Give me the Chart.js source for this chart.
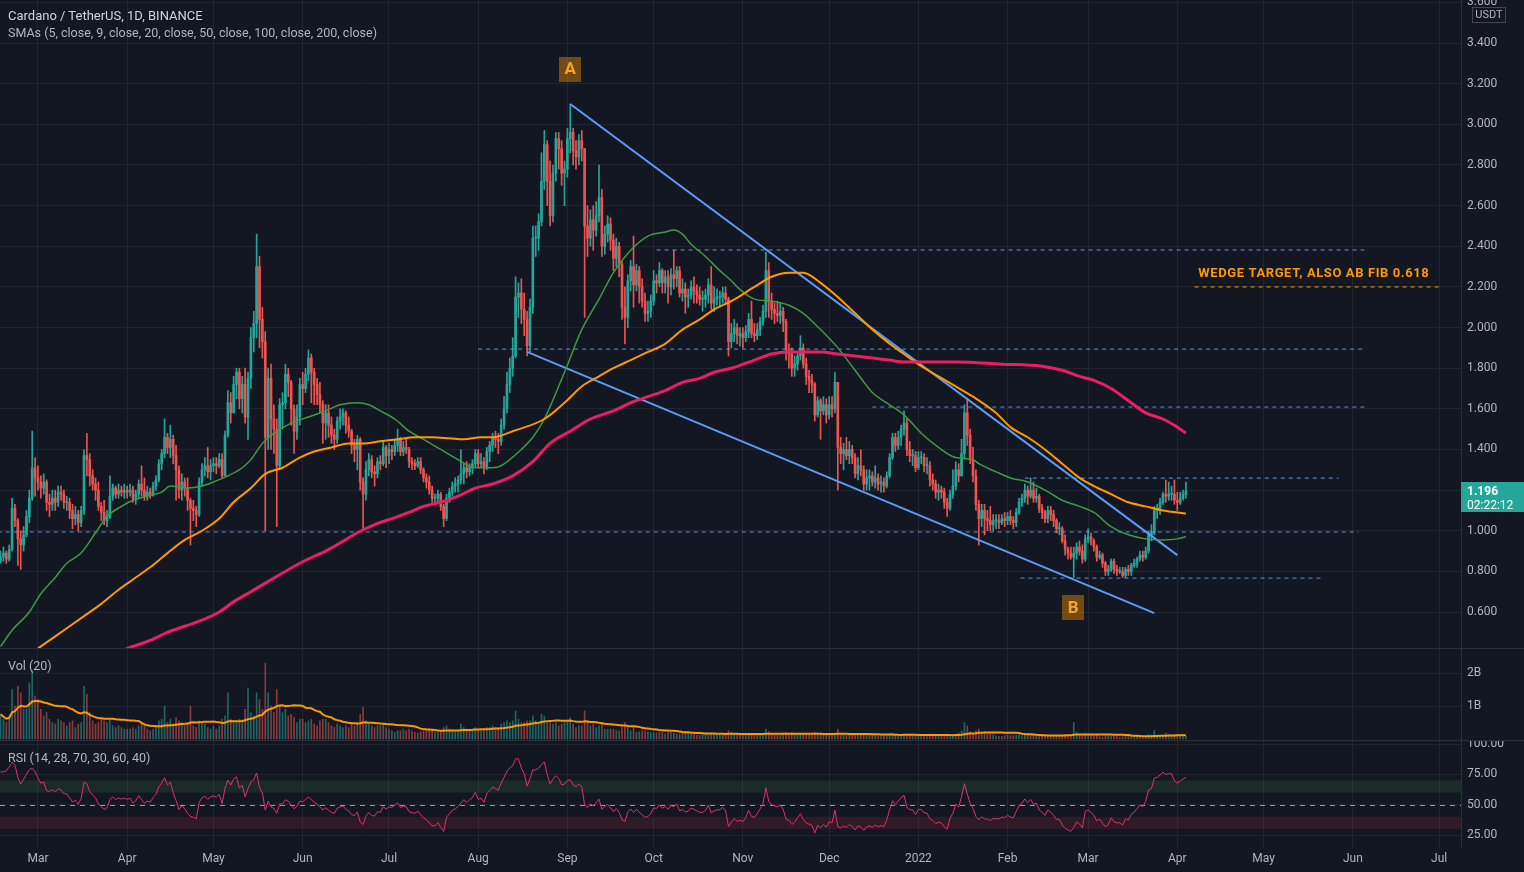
<!DOCTYPE html>
<html>
<head>
<meta charset="utf-8">
<title>Cardano / TetherUS, 1D, BINANCE</title>
<script src="https://cdn.jsdelivr.net/npm/chart.js@4.4.1/dist/chart.umd.min.js"></script>
<style>
  html, body { margin: 0; padding: 0; background: #131722; }
  body { width: 1524px; height: 872px; position: relative; overflow: hidden; font-family: Roboto, "Noto Sans", sans-serif; }
  canvas { position: absolute; left: 0; }
  #main { top: 0; }
  #vol { top: 648px; }
  #rsi { top: 740px; }
  .sep { position: absolute; left: 0; width: 1524px; height: 1px; background: #2a2e39; }
  .legend { position: absolute; left: 8px; color: #b2b5be; font-size: 12.5px; line-height: 16px; white-space: nowrap; }
</style>
</head>
<body>
<canvas id="main" width="1524" height="648"></canvas>
<canvas id="vol" width="1524" height="92"></canvas>
<canvas id="rsi" width="1524" height="132"></canvas>
<div class="sep" style="top:648px"></div>
<div class="sep" style="top:740px"></div>
<div class="legend" style="top:8px;font-size:13px;color:#d1d4dc">Cardano / TetherUS, 1D, BINANCE</div>
<div class="legend" style="top:25px">SMAs (5, close, 9, close, 20, close, 50, close, 100, close, 200, close)</div>
<div class="legend" style="top:658px">Vol (20)</div>
<div class="legend" style="top:750px">RSI (14, 28, 70, 30, 60, 40)</div>
<script>
const FONT = 'Roboto, "Noto Sans", sans-serif';
const TEXT = '#b2b5be';
const GRID = 'rgba(42,46,57,0.6)';
const UP = '#26a69a';
const DOWN = '#ef5350';

// day 0 = 16 Feb 2021, one candle per day
const startDate = Date.UTC(2021, 1, 16);
const firstOpen = 0.85;

const closes = [
  0.87,0.89,0.86,0.91,1.11,1.05,0.96,0.93,0.98,1.07,1.16,1.31,1.26, // feb 21
  1.24,1.21,1.24,1.14,1.13,1.16,1.14,1.19,1.18,1.14,1.14,1.10,1.06,1.08,1.04,1.10,1.37,1.35,1.27,1.23,1.20,1.12,1.09,1.05,1.07,1.17,1.21,1.18,1.20,1.19,1.20,
  1.19,1.20,1.16,1.18,1.23,1.20,1.17,1.19,1.18,1.22,1.25,1.33,1.38,1.46,1.41,1.45,1.37,1.30,1.20,1.24,1.21,1.15,1.11,1.10,1.08,1.24,1.30,1.32,1.29,1.32,
  1.33,1.32,1.35,1.27,1.47,1.63,1.58,1.72,1.78,1.65,1.72,1.56,1.75,1.95,2.02,2.30,2.04,1.93,1.46,1.75,1.55,1.50,1.32,1.62,1.63,1.77,1.73,1.60,1.49,1.56,1.72,
  1.70,1.77,1.85,1.78,1.72,1.67,1.62,1.53,1.58,1.52,1.47,1.45,1.54,1.56,1.58,1.52,1.49,1.42,1.40,1.45,1.24,1.18,1.30,1.35,1.29,1.28,1.34,1.33,1.41,1.37,
  1.40,1.39,1.42,1.45,1.39,1.41,1.40,1.34,1.33,1.32,1.34,1.30,1.26,1.24,1.20,1.16,1.16,1.18,1.12,1.06,1.16,1.19,1.22,1.23,1.25,1.28,1.31,1.29,1.31,1.33,1.38,
  1.33,1.34,1.31,1.39,1.42,1.46,1.45,1.44,1.52,1.60,1.72,1.80,1.86,2.15,2.17,2.09,2.04,1.91,2.10,2.44,2.44,2.52,2.72,2.90,2.72,2.55,2.76,2.93,2.88,2.76,2.78,
  2.93,2.96,2.87,2.84,2.92,2.88,2.50,2.44,2.53,2.48,2.55,2.64,2.40,2.46,2.51,2.43,2.34,2.40,2.31,2.10,2.05,2.23,2.30,2.21,2.28,2.20,2.13,2.07,2.08,2.13,
  2.23,2.22,2.28,2.22,2.25,2.20,2.26,2.24,2.28,2.17,2.19,2.15,2.16,2.20,2.18,2.16,2.14,2.14,2.16,2.21,2.12,2.14,2.15,2.15,2.17,2.14,1.93,1.97,2.00,1.96,1.97,
  1.95,1.98,2.04,1.97,1.96,1.99,2.03,2.08,2.28,2.13,2.09,2.07,2.06,2.08,2.03,1.89,1.87,1.80,1.82,1.86,1.90,1.82,1.76,1.74,1.72,1.57,1.64,1.59,1.62,1.57,
  1.62,1.60,1.73,1.41,1.38,1.40,1.37,1.40,1.36,1.28,1.32,1.30,1.23,1.26,1.27,1.24,1.26,1.23,1.24,1.22,1.27,1.36,1.46,1.42,1.46,1.50,1.53,1.40,1.37,1.37,1.31,
  1.36,1.36,1.32,1.32,1.25,1.23,1.19,1.20,1.19,1.14,1.11,1.18,1.22,1.30,1.27,1.38,1.58,1.47,1.35,1.27,1.13,1.06,1.10,1.06,1.05,1.03,1.05,1.05,1.04,1.06,1.05,
  1.07,1.05,1.04,1.09,1.14,1.16,1.20,1.17,1.20,1.16,1.17,1.11,1.09,1.06,1.10,1.08,1.05,1.01,1.01,0.95,0.91,0.89,0.87,0.89,0.92,0.90,0.86,0.96,
  0.97,0.95,0.92,0.87,0.88,0.84,0.80,0.81,0.85,0.81,0.80,0.80,0.78,0.81,0.80,0.83,0.84,0.86,0.88,0.87,0.90,0.98,0.99,1.10,1.11,1.14,1.18,1.17,1.18,1.18,1.15,
  1.14,1.16,1.18,1.196
];

const highs = [
  0.90,0.92,0.90,0.93,1.16,1.13,1.06,1.00,1.02,1.10,1.20,1.49,1.36,
  1.32,1.27,1.28,1.25,1.18,1.20,1.20,1.22,1.22,1.20,1.17,1.16,1.13,1.12,1.10,1.12,1.40,1.48,1.38,1.30,1.26,1.24,1.14,1.15,1.10,1.27,1.23,1.22,1.23,1.22,1.23,
  1.22,1.23,1.22,1.20,1.25,1.32,1.26,1.22,1.21,1.24,1.27,1.35,1.40,1.55,1.48,1.52,1.47,1.42,1.32,1.28,1.26,1.26,1.16,1.15,1.12,1.26,1.33,1.36,1.41,1.35,
  1.36,1.36,1.38,1.38,1.49,1.69,1.68,1.76,1.80,1.80,1.76,1.80,1.78,2.00,2.08,2.46,2.35,2.10,1.98,1.80,1.82,1.62,1.55,1.65,1.68,1.82,1.80,1.74,1.62,1.62,1.75,
  1.78,1.80,1.89,1.87,1.80,1.75,1.73,1.64,1.62,1.62,1.56,1.50,1.56,1.60,1.60,1.59,1.56,1.50,1.45,1.47,1.46,1.26,1.34,1.38,1.37,1.32,1.36,1.37,1.44,1.42,
  1.43,1.42,1.45,1.50,1.46,1.44,1.45,1.41,1.36,1.35,1.36,1.36,1.31,1.28,1.27,1.22,1.18,1.20,1.19,1.13,1.18,1.21,1.24,1.26,1.27,1.40,1.33,1.34,1.33,1.35,1.40,
  1.40,1.38,1.36,1.41,1.44,1.48,1.49,1.48,1.55,1.66,1.78,1.85,1.95,2.25,2.22,2.24,2.17,2.08,2.14,2.50,2.50,2.56,2.86,2.97,2.92,2.82,2.80,2.96,2.96,2.92,2.82,
  2.98,3.10,2.98,2.92,2.95,2.97,2.88,2.60,2.58,2.60,2.62,2.80,2.68,2.50,2.55,2.54,2.46,2.44,2.42,2.33,2.20,2.26,2.33,2.45,2.31,2.30,2.24,2.17,2.13,2.16,
  2.28,2.26,2.32,2.29,2.28,2.28,2.29,2.38,2.30,2.30,2.24,2.22,2.19,2.23,2.25,2.21,2.20,2.18,2.19,2.24,2.30,2.20,2.19,2.18,2.20,2.20,2.15,2.02,2.04,2.02,2.00,
  2.00,2.01,2.07,2.13,2.02,2.02,2.05,2.11,2.37,2.32,2.17,2.12,2.13,2.12,2.10,2.04,1.92,1.90,1.86,1.88,1.96,1.92,1.85,1.79,1.77,1.73,1.66,1.65,1.66,1.65,
  1.66,1.66,1.78,1.73,1.46,1.43,1.46,1.44,1.42,1.38,1.36,1.40,1.32,1.30,1.30,1.29,1.32,1.28,1.27,1.26,1.29,1.38,1.48,1.48,1.49,1.52,1.59,1.55,1.44,1.40,1.39,
  1.39,1.39,1.38,1.36,1.34,1.28,1.25,1.23,1.22,1.21,1.16,1.20,1.30,1.34,1.33,1.45,1.62,1.65,1.50,1.41,1.30,1.15,1.13,1.13,1.10,1.12,1.08,1.08,1.08,1.08,1.09,
  1.09,1.10,1.07,1.11,1.16,1.18,1.23,1.22,1.26,1.24,1.21,1.18,1.13,1.10,1.12,1.12,1.10,1.06,1.04,1.02,0.98,0.92,0.92,0.92,0.94,0.95,0.93,0.98,
  1.01,0.99,0.96,0.93,0.90,0.89,0.85,0.83,0.86,0.86,0.83,0.82,0.82,0.82,0.83,0.84,0.86,0.87,0.90,0.90,0.92,1.00,1.03,1.12,1.13,1.16,1.19,1.25,1.24,1.22,1.25,
  1.19,1.19,1.20,1.24
];

const lows = [
  0.84,0.85,0.84,0.85,0.90,1.02,0.83,0.81,0.90,0.97,1.04,1.15,1.17,
  1.20,1.16,1.18,1.10,1.07,1.10,1.10,1.12,1.15,1.11,1.10,1.06,1.01,1.03,1.00,1.02,1.08,1.27,1.22,1.20,1.15,1.10,1.05,1.03,1.02,1.06,1.15,1.16,1.16,1.17,1.16,
  1.16,1.17,1.14,1.13,1.16,1.17,1.15,1.15,1.16,1.17,1.20,1.24,1.30,1.36,1.38,1.36,1.33,1.15,1.16,1.15,1.17,1.10,0.93,1.05,1.02,1.07,1.22,1.27,1.26,1.25,
  1.29,1.28,1.31,1.26,1.27,1.46,1.53,1.58,1.65,1.60,1.58,1.53,1.45,1.70,1.88,1.95,1.90,1.85,1.00,1.40,1.40,1.38,1.02,1.31,1.50,1.60,1.66,1.52,1.38,1.45,1.52,
  1.62,1.68,1.74,1.63,1.62,1.62,1.58,1.43,1.45,1.46,1.43,1.40,1.43,1.50,1.52,1.48,1.46,1.38,1.34,1.30,1.20,1.00,1.15,1.27,1.26,1.22,1.26,1.30,1.32,1.31,
  1.33,1.35,1.37,1.39,1.37,1.37,1.38,1.31,1.30,1.30,1.31,1.28,1.24,1.21,1.18,1.14,1.13,1.14,1.10,1.02,1.05,1.14,1.17,1.19,1.19,1.23,1.23,1.26,1.27,1.28,1.31,
  1.31,1.31,1.28,1.30,1.34,1.39,1.41,1.38,1.42,1.50,1.58,1.68,1.76,1.85,2.05,2.02,1.96,1.86,1.88,2.07,2.35,2.38,2.50,2.68,2.60,2.50,2.52,2.72,2.78,2.70,2.60,
  2.74,2.86,2.80,2.78,2.80,2.82,2.05,2.35,2.40,2.38,2.45,2.52,2.35,2.36,2.42,2.38,2.28,2.30,2.25,2.04,1.92,2.00,2.18,2.10,2.18,2.12,2.10,2.03,2.03,2.05,
  2.11,2.17,2.20,2.17,2.17,2.12,2.16,2.19,2.20,2.15,2.13,2.07,2.10,2.14,2.12,2.12,2.11,2.08,2.10,2.12,2.09,2.08,2.11,2.10,2.12,2.12,1.86,1.90,1.93,1.92,1.91,
  1.90,1.93,1.95,1.95,1.93,1.94,1.96,2.01,2.05,2.05,2.04,2.02,2.03,2.02,1.98,1.84,1.80,1.76,1.76,1.79,1.84,1.80,1.72,1.68,1.68,1.54,1.56,1.45,1.57,1.53,
  1.55,1.56,1.58,1.20,1.33,1.30,1.35,1.33,1.33,1.26,1.25,1.27,1.20,1.20,1.20,1.22,1.21,1.20,1.19,1.19,1.21,1.26,1.35,1.39,1.40,1.42,1.47,1.37,1.34,1.32,1.29,
  1.30,1.33,1.29,1.28,1.22,1.20,1.16,1.15,1.16,1.11,1.07,1.10,1.16,1.20,1.24,1.27,1.36,1.42,1.33,1.24,1.10,0.93,1.02,0.98,1.00,1.00,1.00,1.01,1.01,1.03,1.02,
  1.03,1.03,1.01,1.02,1.08,1.12,1.14,1.13,1.16,1.14,1.14,1.09,1.06,1.04,1.04,1.05,1.02,0.99,0.98,0.94,0.88,0.86,0.86,0.77,0.86,0.88,0.84,0.85,
  0.94,0.93,0.90,0.85,0.86,0.82,0.78,0.78,0.80,0.79,0.78,0.79,0.77,0.77,0.78,0.78,0.82,0.82,0.85,0.85,0.86,0.89,0.95,0.98,1.06,1.08,1.13,1.14,1.15,1.15,1.13,
  1.10,1.13,1.15,1.16
];

// daily volume, billions
const volumes = [
  0.75,0.6,0.5,0.7,1.5,1.0,1.6,1.4,0.9,0.9,1.7,2.1,1.3,
  1.2,0.9,0.7,0.8,0.6,0.5,0.45,0.6,0.55,0.5,0.4,0.5,0.55,0.35,0.45,0.5,1.6,1.35,0.8,0.55,0.45,0.5,0.6,0.55,0.5,0.6,0.4,0.35,0.4,0.35,0.3,
  0.3,0.3,0.35,0.3,0.4,0.45,0.4,0.3,0.25,0.3,0.35,0.55,0.6,1.0,0.5,0.6,0.45,0.65,0.55,0.5,0.4,0.45,1.0,0.4,0.35,0.55,0.5,0.45,0.35,0.3,
  0.4,0.3,0.4,0.6,0.7,1.4,0.6,0.55,0.5,0.6,0.55,0.9,1.55,0.8,0.7,1.4,1.2,0.9,2.3,1.4,1.0,0.8,1.5,1.0,0.8,0.9,0.7,0.75,0.65,0.5,0.6,
  0.6,0.5,0.55,0.6,0.45,0.4,0.55,0.6,0.6,0.5,0.4,0.35,0.45,0.4,0.35,0.4,0.35,0.45,0.4,0.5,0.75,0.97,0.55,0.45,0.4,0.35,0.4,0.4,0.45,0.35,
  0.3,0.25,0.2,0.25,0.25,0.3,0.25,0.3,0.25,0.2,0.18,0.22,0.25,0.25,0.3,0.25,0.2,0.2,0.25,0.35,0.4,0.3,0.25,0.22,0.25,0.45,0.35,0.3,0.3,0.3,0.35,
  0.3,0.28,0.3,0.35,0.35,0.4,0.35,0.3,0.45,0.5,0.55,0.5,0.55,0.85,0.6,0.5,0.5,0.55,0.55,0.7,0.55,0.45,0.75,0.7,0.55,0.5,0.45,0.5,0.4,0.45,0.5,
  0.55,0.65,0.45,0.35,0.4,0.4,0.85,0.5,0.4,0.45,0.35,0.4,0.45,0.3,0.3,0.3,0.3,0.25,0.25,0.4,0.5,0.35,0.25,0.35,0.2,0.22,0.25,0.25,0.22,0.2,
  0.2,0.18,0.2,0.2,0.15,0.2,0.2,0.18,0.15,0.15,0.18,0.2,0.18,0.15,0.15,0.12,0.12,0.15,0.15,0.15,0.18,0.15,0.12,0.12,0.13,0.15,0.25,0.2,0.17,0.14,0.13,
  0.14,0.15,0.15,0.15,0.14,0.13,0.12,0.15,0.3,0.22,0.17,0.15,0.12,0.12,0.14,0.2,0.17,0.2,0.15,0.13,0.14,0.14,0.15,0.14,0.13,0.2,0.13,0.15,0.14,0.14,
  0.14,0.14,0.18,0.3,0.17,0.15,0.12,0.12,0.13,0.14,0.11,0.11,0.15,0.13,0.14,0.12,0.12,0.1,0.1,0.11,0.12,0.16,0.18,0.12,0.1,0.12,0.13,0.15,0.12,0.12,0.11,
  0.09,0.08,0.1,0.11,0.14,0.13,0.15,0.11,0.09,0.14,0.13,0.12,0.11,0.14,0.18,0.25,0.5,0.4,0.22,0.18,0.25,0.3,0.2,0.22,0.15,0.16,0.13,0.1,0.08,0.08,0.1,
  0.12,0.1,0.1,0.12,0.13,0.1,0.14,0.12,0.14,0.13,0.1,0.1,0.09,0.1,0.1,0.1,0.1,0.11,0.08,0.1,0.14,0.12,0.1,0.5,0.2,0.12,0.12,0.18,
  0.15,0.12,0.1,0.12,0.07,0.06,0.1,0.09,0.1,0.08,0.08,0.05,0.07,0.08,0.08,0.1,0.08,0.08,0.07,0.07,0.08,0.14,0.12,0.25,0.12,0.1,0.12,0.18,0.14,0.12,0.12,
  0.11,0.08,0.07,0.09
];

// RSI for the first 14 days, read off the pane (no history before them here)
const rsiHead = [77, 77, 78, 81, 85, 83, 72, 67, 71, 75, 79, 80, 77, 72];

// moving averages: [day, price]
const sma50 = [[0,0.43],[4,0.51],[10,0.60],[14,0.69],[19,0.77],[23,0.84],[28,0.89],[33,0.99],[37,1.07],[42,1.12],[46,1.15],[51,1.17],[56,1.19],[59,1.22],[65,1.21],[70,1.22],[74,1.24],[79,1.27],[84,1.31],[87,1.35],[91,1.43],[95,1.48],[101,1.53],[107,1.56],[113,1.59],[118,1.62],[124,1.63],[128,1.62],[132,1.59],[137,1.55],[142,1.49],[147,1.45],[153,1.40],[159,1.35],[165,1.31],[171,1.31],[174,1.32],[181,1.40],[185,1.46],[189,1.55],[196,1.78],[202,1.99],[208,2.14],[213,2.27],[219,2.38],[225,2.45],[231,2.47],[234,2.48],[237,2.46],[240,2.41],[245,2.35],[250,2.28],[254,2.23],[256,2.20],[262,2.14],[268,2.13],[274,2.11],[279,2.07],[285,1.99],[291,1.90],[297,1.79],[303,1.68],[309,1.62],[314,1.57],[320,1.48],[326,1.41],[332,1.36],[338,1.35],[340,1.33],[346,1.29],[351,1.26],[357,1.24],[363,1.20],[369,1.15],[375,1.12],[380,1.09],[386,1.02],[392,0.98],[398,0.96],[404,0.955],[409,0.96],[412,0.97]];
const sma100 = [[7,0.35],[13,0.42],[19,0.48],[23,0.52],[29,0.58],[35,0.64],[41,0.71],[46,0.76],[52,0.82],[58,0.89],[64,0.955],[70,1.00],[76,1.06],[81,1.14],[87,1.21],[92,1.28],[98,1.31],[104,1.36],[109,1.39],[115,1.41],[121,1.43],[126,1.43],[132,1.44],[138,1.45],[144,1.46],[150,1.46],[156,1.455],[161,1.45],[167,1.46],[171,1.46],[178,1.49],[189,1.55],[196,1.63],[202,1.71],[208,1.76],[213,1.80],[219,1.84],[225,1.88],[231,1.92],[237,1.99],[243,2.04],[248,2.09],[254,2.13],[262,2.20],[268,2.25],[274,2.27],[279,2.27],[285,2.22],[291,2.15],[297,2.07],[303,1.99],[309,1.92],[314,1.87],[320,1.81],[326,1.76],[332,1.71],[338,1.66],[346,1.58],[351,1.51],[357,1.46],[363,1.40],[369,1.33],[375,1.26],[380,1.22],[386,1.18],[392,1.14],[398,1.12],[404,1.10],[409,1.09],[412,1.085]];
const sma200 = [[38,0.38],[44,0.42],[52,0.46],[58,0.50],[64,0.53],[70,0.56],[76,0.60],[81,0.65],[87,0.70],[106,0.855],[113,0.90],[118,0.94],[124,0.99],[130,1.03],[136,1.06],[142,1.09],[147,1.12],[153,1.14],[159,1.17],[165,1.21],[171,1.23],[178,1.27],[185,1.34],[191,1.43],[198,1.49],[205,1.55],[213,1.59],[219,1.63],[225,1.66],[231,1.69],[237,1.73],[243,1.75],[248,1.78],[254,1.80],[262,1.84],[268,1.87],[274,1.88],[279,1.88],[285,1.88],[291,1.87],[297,1.86],[303,1.85],[309,1.84],[314,1.83],[320,1.83],[332,1.83],[348,1.82],[362,1.81],[369,1.79],[375,1.76],[380,1.74],[386,1.70],[392,1.64],[398,1.58],[404,1.55],[409,1.51],[412,1.48]];

// drawings
const wedgeUpper = [[198, 3.10], [409, 0.88]];
const wedgeLower = [[183, 1.88], [401, 0.595]];
const levelPrices = [2.382, 1.894, 1.609, 1.259, 0.994, 0.767];
const levelFrom = [228, 166, 303, 356, -1, 354.5];
const levelTo = [474, 474, 474, 465, 472, 460];
const targetPrice = 2.20;
const targetFrom = 415;
const targetTo = 500.5;
const targetText = 'WEDGE TARGET, ALSO AB FIB 0.618';
const pointLabels = [{ text: 'A', day: 198.0, price: 3.272 }, { text: 'B', day: 372.8, price: 0.62 }];
const countdown = '02:22:12';

// axes
const monthLabels = ['Mar','Apr','May','Jun','Jul','Aug','Sep','Oct','Nov','Dec','2022','Feb','Mar','Apr','May','Jun','Jul'];
const monthStarts = ['2021-03-01','2021-04-01','2021-05-01','2021-06-01','2021-07-01','2021-08-01','2021-09-01','2021-10-01','2021-11-01','2021-12-01','2022-01-01','2022-02-01','2022-03-01','2022-04-01','2022-05-01','2022-06-01','2022-07-01'];
const priceTicks = [0.6,0.8,1.0,1.2,1.4,1.6,1.8,2.0,2.2,2.4,2.6,2.8,3.0,3.2,3.4,3.6];
const volTicks = [1, 2];
const rsiTicks = [25, 50, 75, 100];
const rsiUpperBand = [60, 70];
const rsiLowerBand = [30, 40];
const rsiMid = 50;

const X_MIN = -0.2, X_MAX = 507.6;

Chart.defaults.font.family = FONT;

const monthDays = monthStarts.map(s => (Date.parse(s + 'T00:00:00Z') - startDate) / 864e5);
const days = closes.map((c, i) => i);
const opens = closes.map((c, i) => i === 0 ? firstOpen : closes[i - 1]);
const isUp = closes.map((c, i) => c >= opens[i]);
const candleColors = isUp.map(u => u ? UP : DOWN);
const volColors = isUp.map(u => u ? 'rgba(38,166,154,0.55)' : 'rgba(239,83,80,0.55)');

function rsiCalc(values, len) {
  const out = values.map(() => null);
  let g = 0, l = 0;
  for (let i = 1; i < values.length; i++) {
    const ch = values[i] - values[i - 1];
    const up = Math.max(ch, 0), dn = Math.max(-ch, 0);
    if (i <= len) {
      g += up / len; l += dn / len;
      if (i === len) out[i] = 100 - 100 / (1 + g / l);
    } else {
      g = (g * (len - 1) + up) / len;
      l = (l * (len - 1) + dn) / len;
      out[i] = l === 0 ? 100 : 100 - 100 / (1 + g / l);
    }
  }
  return out;
}
const rsiCalcd = rsiCalc(closes, 14);
const rsiValues = days.map(i => i < rsiHead.length ? rsiHead[i] : rsiCalcd[i]);

const volMa = volumes.map((v, i) => {
  const w = volumes.slice(Math.max(0, i - 19), i + 1);
  return w.reduce((a, b) => a + b, 0) / w.length;
});

function makeX(showLabels) {
  return {
    type: 'linear', min: X_MIN, max: X_MAX, offset: false,
    afterBuildTicks: s => { s.ticks = monthDays.map(v => ({ value: v })); },
    ticks: { display: showLabels, autoSkip: false, maxRotation: 0, color: TEXT, font: { size: 12 }, padding: 4,
      callback: (v, i) => monthLabels[i] },
    grid: { color: GRID, drawTicks: false, offset: false },
    border: { display: false },
    afterFit: s => { s.height = showLabels ? 24 : 0; s.paddingLeft = 0; s.paddingRight = 0; }
  };
}

function makeY(min, max, ticks, fmt) {
  return {
    type: 'linear', position: 'right', min: min, max: max,
    afterBuildTicks: s => { s.ticks = ticks.map(v => ({ value: v })); },
    ticks: { color: TEXT, font: { size: 12 }, padding: 6, autoSkip: false, callback: fmt },
    grid: { color: GRID, drawTicks: false },
    border: { display: true, color: '#2a2e39' },
    afterFit: s => { s.width = 63; s.paddingTop = 0; s.paddingBottom = 0; }
  };
}

function lineSet(points, color, width, dash, smooth) {
  return {
    type: 'line', data: points.map(p => ({ x: p[0], y: p[1] })),
    borderColor: color, borderWidth: width, borderDash: dash || [], pointRadius: 0,
    cubicInterpolationMode: smooth ? 'monotone' : 'default', tension: smooth ? 0.4 : 0,
    fill: false, order: 1
  };
}

const baseOptions = {
  responsive: false, animation: false, events: [],
  layout: { padding: 0 },
  plugins: { legend: { display: false }, tooltip: { enabled: false } }
};

const mainOverlay = {
  id: 'mainOverlay',
  afterDraw(chart) {
    const { ctx, scales: { x, y } } = chart;
    ctx.save();
    pointLabels.forEach(p => {
      const cx = x.getPixelForValue(p.day), cy = y.getPixelForValue(p.price);
      ctx.fillStyle = 'rgba(255,152,0,0.4)';
      ctx.fillRect(Math.round(cx - 11), Math.round(cy - 12.5), 22, 25);
      ctx.fillStyle = '#ffa21f';
      ctx.font = 'bold 17px ' + FONT;
      ctx.textAlign = 'center';
      ctx.textBaseline = 'middle';
      ctx.fillText(p.text, cx, cy + 1);
    });
    // target caption
    ctx.fillStyle = '#ff9800';
    ctx.font = 'bold 13px ' + FONT;
    ctx.letterSpacing = '0.6px';
    ctx.textAlign = 'center';
    ctx.textBaseline = 'middle';
    ctx.fillText(targetText, x.getPixelForValue((targetFrom + targetTo) / 2 - 1.3), y.getPixelForValue(targetPrice) - 13);
    ctx.letterSpacing = '0px';

    // currency box on the price scale
    const ax = chart.chartArea.right;
    ctx.fillStyle = '#131722';
    ctx.fillRect(ax + 11, 7, 34, 16);
    ctx.strokeStyle = '#434651';
    ctx.lineWidth = 1;
    ctx.strokeRect(ax + 11.5, 7.5, 33, 15);
    ctx.fillStyle = TEXT;
    ctx.font = '11px ' + FONT;
    ctx.fillText('USDT', ax + 28, 15.5);

    // last price marker
    const last = closes[closes.length - 1];
    const py = y.getPixelForValue(last);
    ctx.fillStyle = UP;
    ctx.fillRect(ax, Math.round(py - 9), 63, 30);
    ctx.fillStyle = '#ffffff';
    ctx.textAlign = 'left';
    ctx.font = 'bold 12px ' + FONT;
    ctx.fillText(last.toFixed(3), ax + 6, py + 1);
    ctx.font = '12px ' + FONT;
    ctx.fillText(countdown, ax + 6, py + 15);
    ctx.restore();
  }
};

const rsiBands = {
  id: 'rsiBands',
  beforeDatasetsDraw(chart) {
    const { ctx, chartArea: a, scales: { y } } = chart;
    ctx.save();
    ctx.fillStyle = 'rgba(76,175,80,0.14)';
    ctx.fillRect(a.left, y.getPixelForValue(rsiUpperBand[1]), a.width, y.getPixelForValue(rsiUpperBand[0]) - y.getPixelForValue(rsiUpperBand[1]));
    ctx.fillStyle = 'rgba(242,54,69,0.13)';
    ctx.fillRect(a.left, y.getPixelForValue(rsiLowerBand[1]), a.width, y.getPixelForValue(rsiLowerBand[0]) - y.getPixelForValue(rsiLowerBand[1]));
    const m = Math.round(y.getPixelForValue(rsiMid)) + 0.5;
    ctx.strokeStyle = '#9598a1';
    ctx.setLineDash([5, 5]);
    ctx.lineWidth = 1;
    ctx.beginPath();
    ctx.moveTo(a.left, m);
    ctx.lineTo(a.right, m);
    ctx.stroke();
    ctx.restore();
  }
};

const levelSets = levelPrices.map((p, k) => lineSet([[levelFrom[k], p], [levelTo[k], p]], 'rgba(100,162,250,0.9)', 1, [4, 4]));

new Chart(document.getElementById('main'), {
  type: 'bar',
  data: {
    datasets: [
      { type: 'bar', data: days.map(i => ({ x: i, y: [lows[i], highs[i]] })), backgroundColor: candleColors, barThickness: 1, grouped: false, order: 5 },
      { type: 'bar', data: days.map(i => ({ x: i, y: [opens[i], closes[i]] })), backgroundColor: candleColors, barThickness: 2, minBarLength: 1, grouped: false, order: 4 },
      lineSet(sma200, '#e91e63', 3, null, true),
      lineSet(sma100, '#ff9800', 2, null, true),
      lineSet(sma50, '#3f9a44', 1.5, null, true),
      ...levelSets,
      lineSet([[targetFrom, targetPrice], [targetTo, targetPrice]], '#ff9800', 1, [4, 4]),
      lineSet(wedgeUpper, '#5b9cf6', 2),
      lineSet(wedgeLower, '#5b9cf6', 2)
    ]
  },
  options: Object.assign({}, baseOptions, {
    scales: { x: makeX(false), y: makeY(0.423, 3.612, priceTicks, v => v.toFixed(3)) }
  }),
  plugins: [mainOverlay]
});

new Chart(document.getElementById('vol'), {
  type: 'bar',
  data: {
    datasets: [
      { type: 'bar', data: days.map(i => ({ x: i, y: volumes[i] })), backgroundColor: volColors, barThickness: 1, grouped: false, order: 2 },
      { type: 'line', data: days.map(i => ({ x: i, y: volMa[i] })), borderColor: '#ff9800', borderWidth: 2, pointRadius: 0, tension: 0, order: 1 }
    ]
  },
  options: Object.assign({}, baseOptions, {
    scales: { x: makeX(false), y: makeY(-0.03, 2.76, volTicks, v => v + 'B') }
  })
});

new Chart(document.getElementById('rsi'), {
  type: 'line',
  data: {
    datasets: [
      { data: days.map(i => ({ x: i, y: rsiValues[i] })), borderColor: '#e0306a', borderWidth: 1, pointRadius: 0, tension: 0 }
    ]
  },
  options: Object.assign({}, baseOptions, {
    scales: { x: makeX(true), y: makeY(14.3, 103.3, rsiTicks, v => v.toFixed(2)) }
  }),
  plugins: [rsiBands]
});
</script>
</body>
</html>
